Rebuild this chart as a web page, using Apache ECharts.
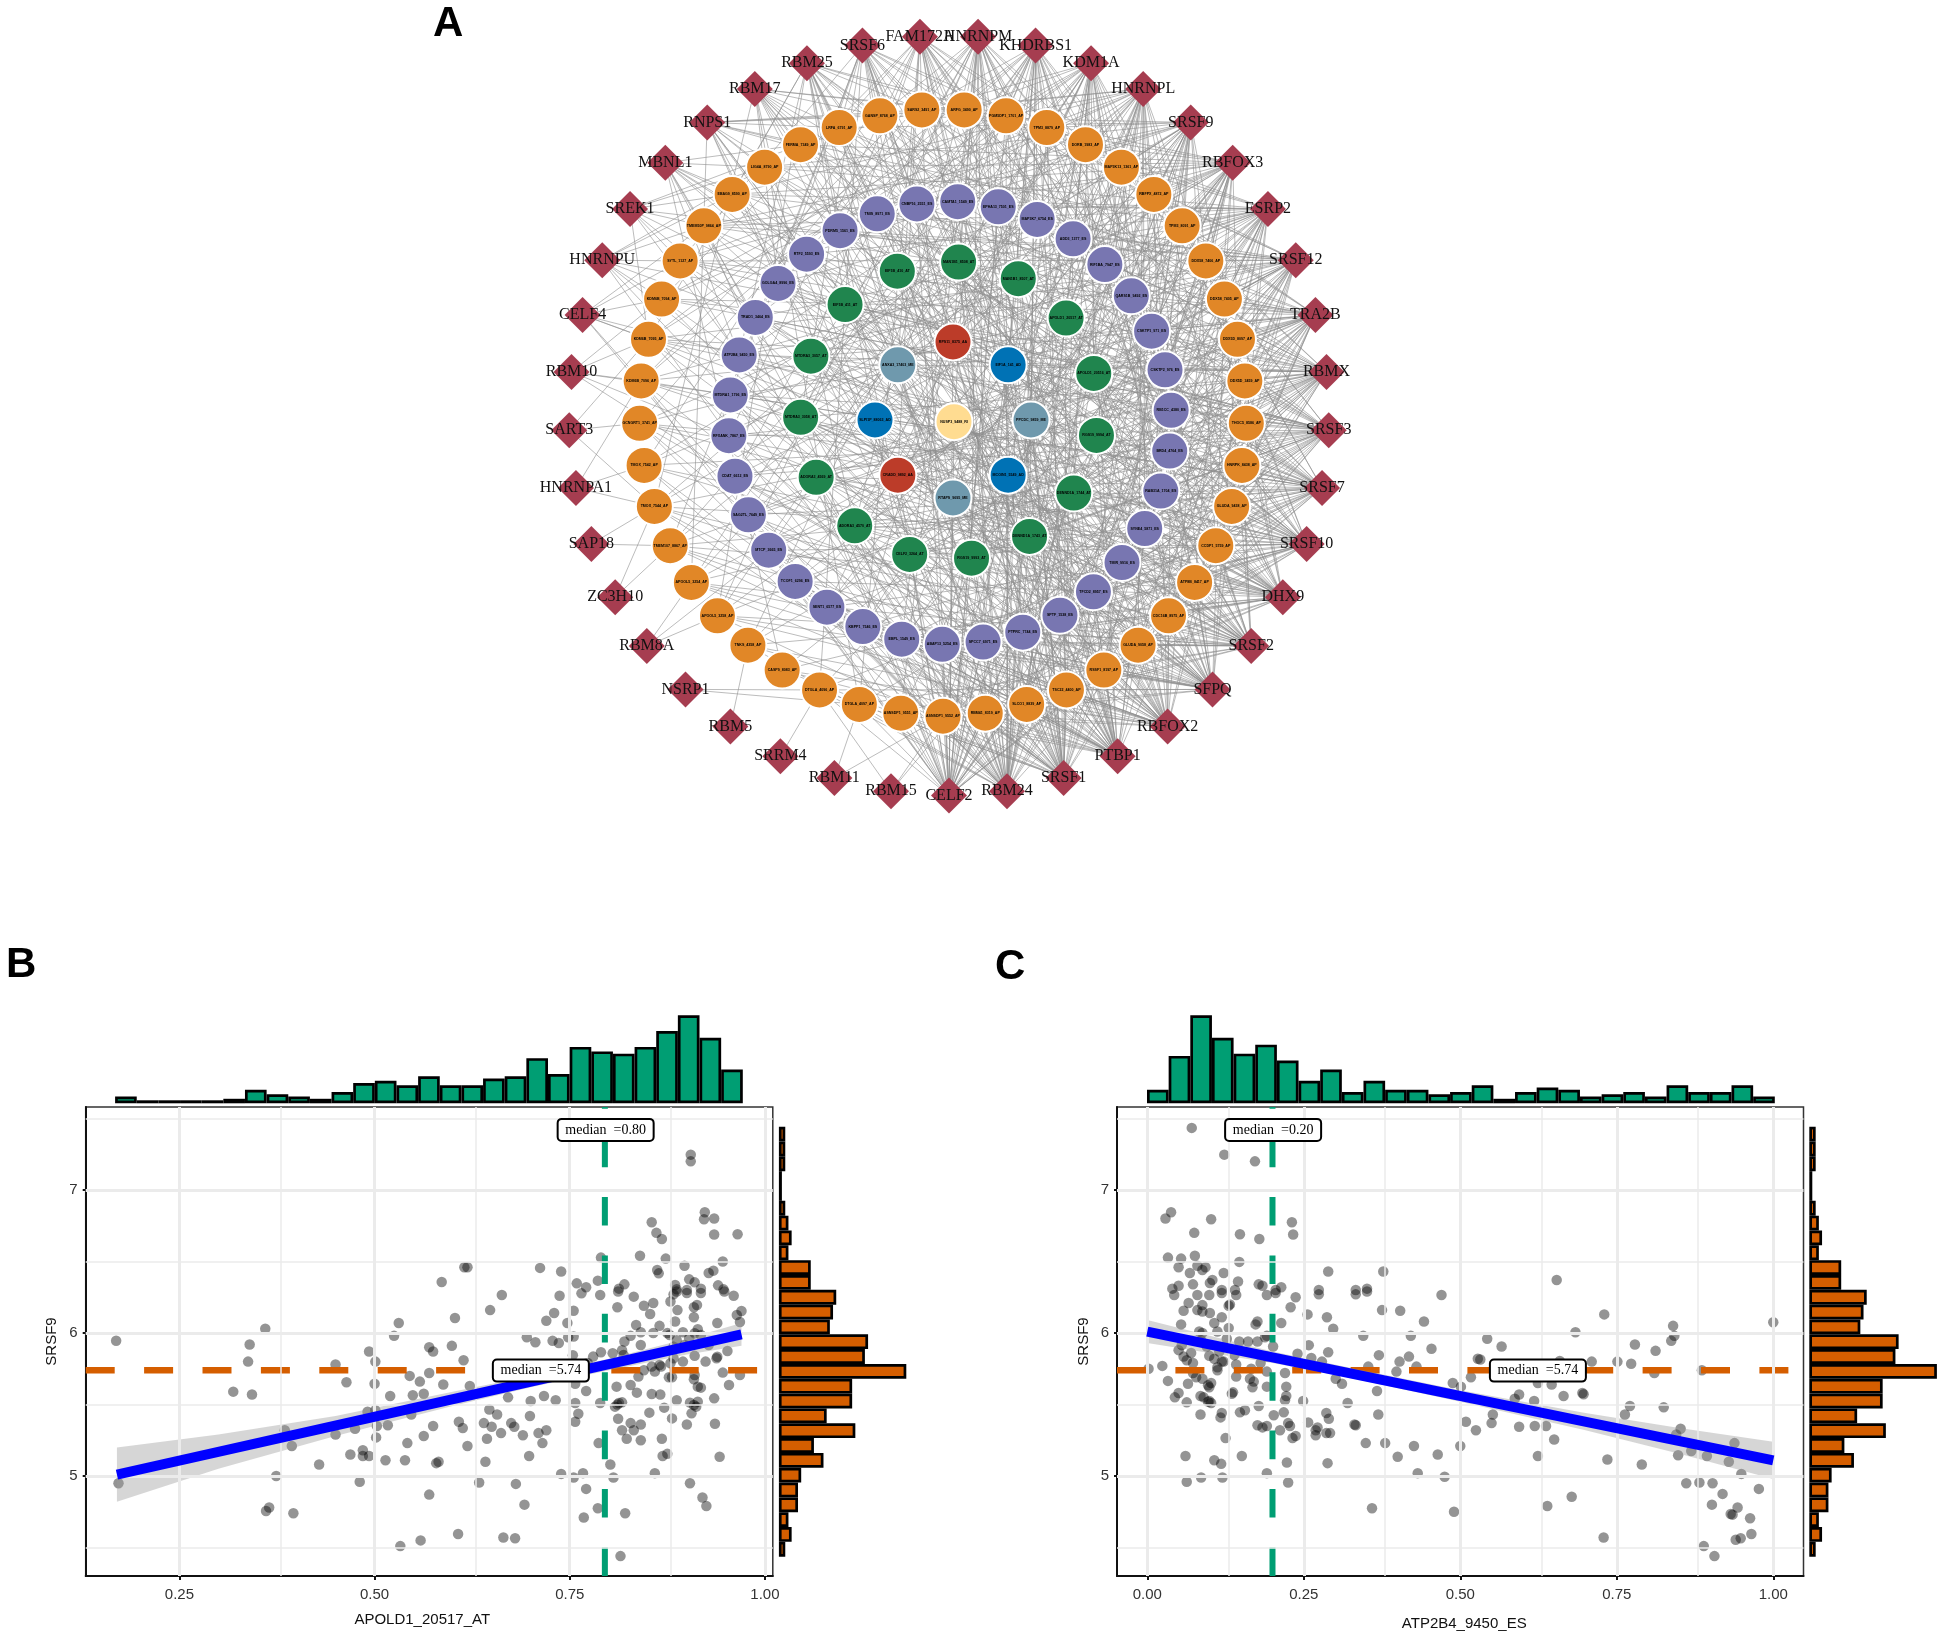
<!DOCTYPE html>
<html><head><meta charset="utf-8">
<style>html,body{margin:0;padding:0;background:#fff}#c{width:1946px;height:1639px}</style>
<script src="https://cdn.jsdelivr.net/npm/echarts@6/dist/echarts.min.js"></script>
</head><body><div id="c"></div>
<script>
// ---------- Panel A data ----------
const rbps=['CELF2','RBM15','RBM11','SRRM4','RBM5','NSRP1','RBM8A','ZC3H10','SAP18','HNRNPA1','SART3','RBM10','CELF4','HNRNPU','SREK1','MBNL1','RNPS1','RBM17','RBM25','SRSF6','FAM172A','HNRNPM','KHDRBS1','KDM1A','HNRNPL','SRSF9','RBFOX3','ESRP2','SRSF12','TRA2B','RBMX','SRSF3','SRSF7','SRSF10','DHX9','SRSF2','SFPQ','RBFOX2','PTBP1','SRSF1','RBM24'];
const orangeAse=['ASNSDP1_9552_AP','ASNSDP1_9551_AP','DTGLA_4097_AP','DTGLA_4096_AP','CASP9_8083_AP','TNKS_4358_AP','APOOL5_3258_AP','APOOL5_3254_AP','TMEM107_8867_AP','TMOX_7544_AP','TMOX_7542_AP','GCNGRT1_3741_AP','KDM6B_7096_AP','KDM6B_7095_AP','KDM6B_7094_AP','SYTL_1127_AP','TMEM50P_9864_AP','EBAG9_8590_AP','LIG4A_8790_AP','FERMA_7349_AP','LRFA_6791_AP','GANSP_8768_AP','SARS2_3491_AP','ARFG_3490_AP','PGM5DP1_1701_AP','TPM3_8879_AP','DORB_1983_AP','MAP3K13_1361_AP','RBFPX_4872_AP','TPM3_8091_AP','DDX58_7406_AP','DDX58_7405_AP','DDX5D_8097_AP','DDX5D_3459_AP','THOC5_8586_AP','HNRPK_8438_AP','GLUDA_9438_AP','CCDP1_5759_AP','ATP8B_8417_AP','CDC16B_8975_AP','GLUDA_9058_AP','RSSF1_8197_AP','TSC22_4400_AP','SLCO1_8839_AP','RBM41_8319_AP'];
const purpleAse=['ABAP13_5254_ES','EBPL_1549_ES','KBPP1_7546_ES','SENT1_6577_ES','TCOF1_6296_ES','MTCP_3665_ES','SAG2TL_7649_ES','CDAT_6612_ES','RFXANK_7867_ES','MTDRA1_1796_ES','ATP2B4_9450_ES','TRAD1_3464_ES','GOLGA4_8996_ES','RTF2_5593_ES','PDRM5_1561_ES','TMIS_8971_ES','CNBP16_2551_ES','CAMTA1_1549_ES','EPHA13_7501_ES','MAP3K7_6754_ES','ADD3_1377_ES','RIF1BA_7947_ES','QARS1B_9492_ES','CSKTP1_971_ES','CSKTP2_976_ES','RB1CC_4380_ES','BRD4_4764_ES','RAB31A_1704_ES','SYNE4_5871_ES','TMIR_9916_ES','TFCD2_8957_ES','SPTF_1538_ES','PTPRC_7744_ES','SPCC7_6971_ES'];
const greenAse=['CELF2_3264_AT','ADORA3_4570_AT','ADORA3_4569_AT','MTDRA3_3058_AT','MTDRA3_3057_AT','EIF1B_411_AT','EIF1B_410_AT','MAN1B1_8508_AT','MAN1B1_8507_AT','APOLD1_20517_AT','APOLD1_20516_AT','RGS19_9994_AT','DENND1A_1744_AT','DENND1A_1743_AT','RGS19_9993_AT'];
const innerAse=['RTAPS_9695_ME','CRADD_9892_AA','SLPI1P_88063_AD','ANXA3_17403_ME','RPS11_8375_AA','EIF1A_141_AD','PPCDC_9859_ME','MCOIN1_5549_AD'];
const innerColors=['#6F99AD','#BC3C29','#0072B5','#6F99AD','#BC3C29','#0072B5','#6F99AD','#0072B5'];
const centerAse='NUSP3_9488_RI';
// targets: 0-44 orange, 100-133 purple, 200-214 green, 300-307 inner, 308 centre
const rbpTargets={
CELF2:[0,1,2,44,43,42,41,3,40,100,101,102,133,132,131,103,130,200,201,214,213,300,301,307,308,129,104,212,202,105,128,302,39,306,127,203,211,22,24,118,116,12,16,121,208,304],
RBM15:[3,0,132],
RBM11:[0,2],
SRRM4:[3],
RBM5:[5],
NSRP1:[3,2],
RBM8A:[7,6,105],
ZC3H10:[8,9],
SAP18:[9,8],
HNRNPA1:[10,9,12],
SART3:[9,13,11],
RBM10:[12,13,14,108,109,107],
CELF4:[15,14,13,16,12,110,106,37],
HNRNPU:[16,15,17,18,111,108,14,203,109,33],
SREK1:[17,16,18,15,13,19,112,204,121,110],
MBNL1:[18,19,17,16,113,110,111,203,205,124,4,303,36],
RNPS1:[20,21,22,23,18,19,114,113,205,200,125,29,30,7,301,112,131],
RBM17:[21,20,19,23,24,115,112,114,206,303,127,33,126,201,9,40,2,209],
RBM25:[20,21,22,23,24,17,115,116,117,205,206,304,128,34,110,118,6,41,0,302,214,133,13],
SRSF6:[21,22,23,24,25,116,117,118,119,206,207,304,20,129,130,3,112,8,42,300,203,109,31,15,213],
FAM172A:[22,23,24,25,26,20,117,118,119,120,207,208,303,305,114,131,36,2,10,43,301,204,108,32,14,212,124],
HNRNPM:[23,24,25,26,27,21,118,119,120,121,207,208,209,305,304,115,132,37,1,113,201,11,44,308,203,107,33,12,214,125,6,101],
KHDRBS1:[24,25,26,27,28,22,119,120,121,122,208,209,306,305,116,133,38,0,112,204,302,12,5,300,202,106,34,13,213,126,7,102,42],
KDM1A:[25,26,27,28,29,23,120,121,122,123,209,210,306,307,117,100,39,44,111,203,301,115,13,6,304,201,105,35,14,212,127,8,103,43,19],
HNRNPL:[26,27,28,29,30,21,22,24,121,122,123,124,209,210,211,306,118,101,40,43,110,202,300,14,7,303,200,104,36,15,214,128,9,115,0,17],
SRSF9:[27,28,29,30,31,20,21,25,122,123,124,125,210,211,307,119,102,41,42,109,201,302,113,15,8,301,214,103,37,16,213,129,10,116,1,18,208],
RBFOX3:[28,29,30,31,32,19,24,26,123,124,125,126,210,211,212,307,308,120,103,42,41,108,200,303,112,18,16,9,300,213,102,38,17,212,130,11,117,2,22,207,5],
ESRP2:[29,30,31,32,33,34,18,25,27,124,125,126,127,211,212,213,307,121,104,43,40,107,214,304,111,17,116,10,305,212,101,39,16,204,131,12,118,3,23,206,6,113],
SRSF12:[30,31,32,33,34,35,17,23,28,125,126,127,128,211,212,213,306,122,105,44,39,106,213,305,110,16,115,11,301,211,100,40,15,205,132,13,119,4,24,205,7,114,202],
TRA2B:[31,32,33,34,35,36,37,16,24,29,126,127,128,129,212,213,214,306,123,106,0,38,105,212,308,109,15,114,119,12,302,210,133,41,14,206,133,5,25,204,8,115,201,20],
RBMX:[32,33,34,35,36,37,38,15,22,30,127,128,129,130,212,213,214,200,305,124,107,1,37,104,211,300,108,14,113,118,20,13,303,209,132,42,207,100,6,26,203,9,116,202,21,110],
SRSF3:[33,34,35,36,37,38,39,14,21,31,128,129,130,131,213,214,200,201,307,125,108,2,36,103,210,301,107,13,112,117,19,122,15,304,208,131,43,208,101,7,27,204,10,111,205,22,109],
SRSF7:[34,35,36,37,38,39,40,13,20,32,129,130,131,132,214,200,201,202,300,126,109,3,35,102,209,302,106,12,111,116,18,121,16,305,207,130,44,209,102,8,28,205,11,110,206,23,115],
SRSF10:[35,36,37,38,39,40,41,12,19,33,130,131,132,133,200,201,202,203,300,307,127,110,4,34,101,208,303,105,11,110,115,17,120,124,18,306,206,129,0,210,103,9,29,206,112,207,24,113],
DHX9:[36,37,38,39,40,41,42,11,18,34,131,132,133,100,200,201,202,203,204,300,301,128,111,5,33,100,207,304,104,10,109,114,16,119,123,26,19,308,205,128,1,211,104,8,30,207,113,208,25,112,12],
SRSF2:[37,38,39,40,41,42,43,10,17,35,132,133,100,101,201,202,203,204,205,301,302,129,112,6,32,133,206,305,103,9,108,113,15,118,122,25,20,307,204,127,2,212,105,7,31,208,114,209,26,111,13],
SFPQ:[38,39,40,41,42,43,44,9,16,36,133,100,101,102,202,203,204,205,206,301,302,303,130,113,7,31,132,205,306,102,8,107,112,14,117,121,24,28,21,300,203,126,3,213,106,6,32,209,115,210,27,110],
RBFOX2:[39,40,41,42,43,44,0,8,15,37,100,101,102,103,203,204,205,206,207,302,303,304,131,114,7,30,131,204,307,101,6,106,111,13,116,120,23,27,33,22,308,202,125,4,214,107,5,210,116,211,28,109,11],
PTBP1:[40,41,42,43,44,0,1,7,14,38,101,102,103,104,204,205,206,207,208,303,304,305,308,132,115,8,29,130,203,300,100,5,105,110,12,115,119,22,26,32,23,306,201,124,9,200,108,4,211,117,212,20,106,18],
SRSF1:[41,42,43,44,0,1,2,6,13,39,102,103,104,105,205,206,207,208,209,304,305,306,133,116,9,28,129,202,301,133,4,104,109,11,114,118,21,25,31,35,24,307,200,123,10,201,107,3,212,118,213,19,120,17],
RBM24:[42,43,44,0,1,2,3,5,12,40,103,104,105,106,206,207,208,209,210,305,306,307,308,100,117,10,27,128,201,302,132,3,103,108,10,113,117,20,24,30,34,25,303,214,122,11,202,109,15,213,119,214,18,121,16]
};
// ---------- Panels B / C data ----------
const topCountsB=[3,0,0,0,0,2,6,4,3,2,5,9,10,8,12,8,8,11,12,20,13,25,23,22,25,32,39,29,15];
const topCountsC=[6,21,39,29,22,26,19,10,15,5,10,6,6,4,5,8,2,5,7,6,3,4,5,3,8,5,5,8,3];
const sideCounts=[2,2,2,0,0,2,3,4,3,10,10,18,17,16,28,27,40,23,23,15,24,11,14,7,6,6,3,4,2];
const xTicksB=[0.25,0.5,0.75,1];
const xMinorB=[0.375,0.625,0.875];
const xTicksC=[0,0.25,0.5,0.75,1];
const xMinorC=[0.125,0.375,0.625,0.875];
const yTicks=[5,6,7];
const yMinor=[4.5,5.5,6.5,7.5];
const medianXB=0.795, medianXC=0.2, medianY=5.74;
const lineB=[[0.17,5.01],[0.97,5.99]];
const lineC=[[0,6.01],[1,5.11]];
const bandB=[[0.17,4.82,5.2],[0.3,5.05,5.29],[0.45,5.28,5.42],[0.6,5.49,5.59],[0.7,5.62,5.7],[0.8,5.74,5.82],[0.9,5.85,5.96],[0.97,5.91,6.07]];
const bandC=[[0,5.93,6.09],[0.1,5.86,5.98],[0.2,5.79,5.87],[0.32,5.69,5.76],[0.5,5.52,5.6],[0.7,5.32,5.44],[0.85,5.155,5.335],[1,4.98,5.24]];
const pointsB=[[.169,5.946],[.172,4.95],[.36,6.03],[.34,5.92],[.338,5.8],[.319,5.59],[.343,5.57],[.385,5.32],[.394,5.21],[.374,5],[.365,4.78],[.361,4.755],[.396,4.74],[.429,5.08],[.45,5.78],[.45,5.29],[.464,5.655],[.475,5.33],[.469,5.15],[.485,5.18],[.485,5.14],[.493,5.14],[.481,4.96],[.491,5.45],[.501,5.46],[.493,5.87],[.501,5.8],[.5,5.645],[.503,5.35],[.502,5.27],[.517,5.355],[.514,5.11],[.52,5.56],[.525,5.98],[.531,6.07],[.539,5.11],[.533,4.51],[.542,5.23],[.545,5.7],[.549,5.565],[.563,5.575],[.558,5.66],[.563,5.28],[.547,5.43],[.57,5.72],[.57,5.9],[.575,5.87],[.575,5.35],[.559,4.55],[.57,4.87],[.579,5.09],[.582,5.1],[.588,5.64],[.599,5.91],[.603,6.105],[.614,5.81],[.608,5.38],[.613,5.335],[.619,5.21],[.607,4.595],[.622,5.63],[.634,4.955],[.642,5.1],[.644,5.26],[.64,5.37],[.65,5.345],[.648,6.16],[.663,6.265],[.665,4.57],[.68,4.565],[.681,4.945],[.657,5.43],[.647,5.465],[.662,5.3],[.671,5.55],[.675,5.37],[.679,5.345],[.69,5.285],[.692,4.8],[.698,5.14],[.699,5.42],[.7,5.525],[.695,5.97],[.706,5.935],[.71,5.3],[.72,5.32],[.715,5.23],[.717,5.56],[.732,5.53],[.72,6.085],[.73,6.14],[.728,5.945],[.736,5.93],[.747,6.07],[.737,6.26],[.739,5.015],[.755,4.99],[.767,5.02],[.771,4.91],[.786,4.775],[.768,4.71],[.821,4.74],[.815,4.44],[.806,4.99],[.802,5.08],[.859,5.02],[.904,4.95],[.92,4.85],[.925,4.79],[.942,5.135],[.869,5.14],[.875,5.155],[.787,5.23],[.936,5.365],[.9,5.36],[.841,5.36],[.841,5.25],[.868,5.26],[.823,5.26],[.817,5.32],[.832,5.32],[.828,5.37],[.812,5.4],[.761,5.435],[.757,5.38],[.754,5.845],[.755,6.155],[.755,5.975],[.748,5.97],[.757,5.645],[.757,5.51],[.771,5.595],[.789,5.51],[.79,5.865],[.78,5.835],[.773,5.79],[.813,5.51],[.817,5.515],[.811,5.5],[.811,6.18],[.789,6.266],[.765,6.277],[.812,6.29],[.832,6.254],[.845,6.19],[.857,6.21],[.853,6.133],
[.905,7.247],[.905,7.2],[.923,6.844],[.922,6.795],[.935,6.8],[.855,6.774],[.861,6.7],[.868,6.657],[.935,6.688],[.965,6.69],[.79,6.527],[.84,6.54],[.873,6.52],[.897,6.47],[.946,6.5],[.615,6.46],[.619,6.46],[.712,6.455],[.739,6.43],[.862,6.44],[.864,6.417],[.928,6.42],[.934,6.436],[.786,6.366],[.82,6.34],[.759,6.347],[.771,6.32],[.586,6.357],[.903,6.375],[.91,6.354],[.885,6.335],[.94,6.333],[.813,6.31],[.9,6.3],[.918,6.31],[.887,6.305],[.947,6.305],
[.883,6.27],[.887,6.29],[.9,6.28],[.918,6.28],[.948,6.29],[.96,6.26],[.879,6.22],[.913,6.196],[.909,6.18],[.888,6.16],[.909,6.11],[.885,6.08],[.939,6.07],[.964,6.126],[.97,6.154],[.968,6.077],[.865,6.05],[.835,6.056],[.841,6.005],[.828,5.98],[.82,5.94],[.841,5.916],[.857,6],[.875,6],[.878,5.986],[.895,6.005],[.914,6.026],[.91,5.998],[.918,5.986],[.903,5.963],[.887,5.95],[.928,5.916],[.897,5.916],[.883,5.904],[.952,5.874],[.938,5.823],[.939,5.834],[.91,5.84],[.924,5.8],[.895,5.8],[.883,5.823],[.879,5.788],[.865,5.776],[.867,5.765],[.855,5.765],[.845,5.74],[.838,5.695],[.859,5.73],[.877,5.69],[.881,5.69],[.909,5.676],[.918,5.618],[.914,5.625],[.946,5.723],[.968,5.706],[.954,5.636],[.91,5.706],[.828,5.636],[.836,5.583],[.855,5.573],[.866,5.57],[.887,5.53],[.904,5.513],[.909,5.497],[.912,5.485],[.914,5.52],[.935,5.543],[.871,5.478],[.852,5.443],[.906,5.438],[.881,5.403],[.817,5.88],[.805,5.858],[.819,5.846],[.81,5.625],[.808,5.485]];
const pointsC=[[.071,7.434],[.123,7.247],[.172,7.2],[.038,6.844],[.029,6.8],[.102,6.795],[.075,6.7],[.231,6.774],[.233,6.688],[.148,6.69],[.179,6.657],[.033,6.527],[.054,6.52],[.076,6.54],[.147,6.497],[.05,6.46],[.08,6.47],[.088,6.44],[.093,6.46],[.068,6.42],[.122,6.42],[.289,6.43],[.377,6.43],[.654,6.37],[.104,6.37],[.1,6.35],[.05,6.33],[.073,6.34],[.145,6.36],[.178,6.34],[.184,6.33],[.214,6.32],[.04,6.31],[.119,6.3],[.14,6.3],[.205,6.3],[.274,6.3],[.333,6.3],[.351,6.31],
[.043,6.266],[.08,6.266],[.099,6.266],[.119,6.28],[.142,6.266],[.191,6.266],[.205,6.28],[.237,6.25],[.274,6.27],[.333,6.27],[.351,6.29],[.47,6.266],[.066,6.21],[.088,6.195],[.132,6.2],[.13,6.19],[.058,6.155],[.08,6.16],[.088,6.15],[.1,6.14],[.119,6.11],[.107,6.07],[.054,6.06],[.176,6.08],[.173,6.06],[.229,6.18],[.256,6.13],[.287,6.11],[.297,6.03],[.214,6.07],[.375,6.16],[.404,6.155],[.442,6.08],[.73,6.13],[.84,6.05],[1,6.075],[.684,6.005],[.842,5.98],[.837,5.945],[.779,5.92],[.812,5.875],[.543,5.96],[.566,5.905],[.345,5.98],[.421,5.98],[.454,5.89],[.528,5.82],[.532,5.815],[.37,5.845],[.418,5.835],[.403,5.8],[.43,5.765],[.289,5.865],[.258,5.915],[.24,5.855],[.262,5.825],[.279,5.8],[.71,5.8],[.751,5.8],[.773,5.785],[.659,5.805],[.353,5.765],[.398,5.73],[.81,5.72],[.886,5.74],[.002,5.75],[.024,5.77],[.517,5.69],[.488,5.65],[.501,5.625],[.624,5.65],[.646,5.64],[.594,5.57],[.587,5.54],[.618,5.525],[.665,5.56],[.695,5.58],[.697,5.572],[.367,5.595],[.32,5.51],[.301,5.68],[.311,5.645],[.249,5.525],[.222,5.625],[.222,5.56],[.22,5.53],[.771,5.49],[.825,5.48],[.763,5.43],[.552,5.43],[.369,5.43],[.286,5.44],[.29,5.4],[.509,5.38],[.55,5.37],[.525,5.32],[.594,5.345],[.619,5.35],[.637,5.35],[.65,5.255],[.852,5.33],[.845,5.29],[.938,5.23],[.848,5.145],[.869,5.175],[.894,5.14],[.929,5.1],[.949,5.015],[.735,5.115],[.79,5.08],[.624,5.14],[.5,5.21],[.464,5.15],[.426,5.21],[.4,5.135],[.38,5.23],[.349,5.23],[.432,5.02],[.475,4.995],[.288,5.09],[.223,5.095],[.061,5.14],[.107,5.11],[.118,5.085],[.151,5.14],[.191,5.02],[.225,4.955],[.063,4.96],[.086,4.99],[.12,4.99],[.125,5.265],[.861,4.95],[.882,4.955],[.903,4.95],[.919,4.875],[.977,4.91],[.678,4.855],[.639,4.79],[.359,4.775],[.49,4.75],[.902,4.8],[.943,4.78],[.932,4.735],[.935,4.73],[.963,4.705],[.965,4.595],[.948,4.565],[.94,4.555],[.729,4.57],[.889,4.51],[.906,4.44],
[.176,5.355],[.184,5.34],[.191,5.35],[.202,5.425],[.218,5.445],[.212,5.32],[.228,5.35],[.225,5.37],[.257,5.375],[.269,5.32],[.272,5.34],[.292,5.3],[.286,5.3],[.237,5.28],[.232,5.265],[.269,5.285],[.331,5.36],[.333,5.355],[.085,5.43],[.117,5.41],[.119,5.44],[.148,5.445],[.156,5.46],[.178,5.49],[.063,5.515],[.044,5.55],[.05,5.58],[.085,5.56],[.09,5.55],[.097,5.52],[.102,5.51],[.099,5.525],[.135,5.575],[.137,5.585],[.065,5.645],[.033,5.665],[.097,5.635],[.099,5.62],[.102,5.65],[.078,5.69],[.088,5.68],[.073,5.72],[.142,5.695],[.164,5.68],[.168,5.62],[.191,5.625],[.17,5.66],[.112,5.74],[.122,5.8],[.142,5.78],[.112,5.76],[.166,5.75],[.191,5.73],[.22,5.72],[.058,5.835],[.05,5.88],[.07,5.86],[.073,5.79],[.063,5.81],[.099,5.84],[.107,5.82],[.083,6.01],[.088,6],[.112,6.01],[.13,6.035],[.127,5.96],[.147,5.94],[.161,5.94],[.176,5.94],[.191,5.98],[.188,5.97],[.201,5.905],[.055,5.915],[.086,5.95],[.095,5.905],[.115,5.87],[.139,5.845],[.119,5.8],[.181,5.79],[.191,5.835]];

// ---------- Panel A build ----------
const nodes=[];
function ring(names,cx,cy,r,rot,colorOf,symbol){
  names.forEach((n,i)=>{
    const a=(rot+i*360/names.length)*Math.PI/180;
    nodes.push({id:String(nodes.length),name:n,value:[cx-r*Math.sin(a),cy+r*Math.cos(a)],symbol:symbol,symbolSize:symbol==='diamond'?36:37,
      itemStyle:{color:colorOf(i),borderColor:'#fff',borderWidth:symbol==='diamond'?0:2},
      label:symbol==='diamond'?{show:true,position:'inside',color:'#111',fontFamily:'Liberation Serif',fontSize:16}
        :{show:true,position:'inside',color:'#000',fontFamily:'Liberation Sans',fontWeight:'bold',fontSize:3.6}});
  });
}
const idx={};
const base=(k,start)=>{idx[k]=start};
base('rbp',0);ring(rbps,949,415.6,380,0,()=>'#A63D50','diamond');
base('o',nodes.length);ring(orangeAse,943,412.7,303.5,0,()=>'#E18727','circle');
base('p',nodes.length);ring(purpleAse,950,423,221.5,2,()=>'#7876B1','circle');
base('g',nodes.length);ring(greenAse,949.5,410.8,149,15.5,()=>'#20854E','circle');
base('i',nodes.length);ring(innerAse,953,420,78,0,i=>innerColors[i],'circle');
base('c',nodes.length);ring([centerAse],954,421.7,0,0,()=>'#FFDC91','circle');
function targetIndex(t){
  if(t<100)return idx.o+t; if(t<200)return idx.p+t-100; if(t<300)return idx.g+t-200;
  if(t<308)return idx.i+t-300; return idx.c;
}
const links=[];
rbps.forEach((n,i)=>{[...new Set(rbpTargets[n])].forEach(t=>links.push({source:i,target:targetIndex(t)}))});

// ---------- Panels B/C build ----------
const sans='Liberation Sans';
function panel(o){
  const gi=o.gridStart, g=[], xa=[], ya=[], s=[];
  const main={left:o.left,top:1107,width:o.right-o.left,height:469,show:true,borderColor:'#333',borderWidth:1.5,backgroundColor:'#fff',containLabel:false};
  g.push(main);
  xa.push({type:'value',gridIndex:gi,min:o.xMin,max:o.xMax,name:o.xName,nameLocation:'middle',nameGap:o.nameGap,
    nameTextStyle:{fontFamily:sans,fontSize:15,color:'#111',padding:o.namePad},
    axisLine:{onZero:false,lineStyle:{color:'#111',width:2}},axisTick:{show:true,customValues:o.xTicks,length:4,lineStyle:{color:'#111',width:2}},
    axisLabel:{customValues:o.xTicks,formatter:v=>v.toFixed(2),fontFamily:sans,fontSize:15,color:'#333',margin:11},splitLine:{show:false}});
  ya.push({type:'value',gridIndex:gi,min:4.301,max:7.58,name:'SRSF9',nameLocation:'middle',nameGap:26,
    nameTextStyle:{fontFamily:sans,fontSize:15,color:'#111'},
    axisLine:{onZero:false,lineStyle:{color:'#111',width:2}},axisTick:{show:true,customValues:yTicks,length:3,lineStyle:{color:'#111',width:2}},
    axisLabel:{customValues:yTicks,fontFamily:sans,fontSize:15,color:'#333',margin:8},splitLine:{show:false}});
  const onMain={xAxisIndex:gi,yAxisIndex:gi};
  const gl=(arr,key,w)=>arr.map(v=>({[key]:v,lineStyle:{color:'#EBEBEB',width:w,type:'solid'}}));
  s.push({type:'line',...onMain,data:[],silent:true,z:1,markLine:{silent:true,symbol:'none',label:{show:false},animation:false,
    data:[...gl(o.xMinor,'xAxis',1.5),...gl(yMinor,'yAxis',1.5),...gl(o.xTicks,'xAxis',3),...gl(yTicks,'yAxis',3)]}});
  s.push({type:'scatter',...onMain,data:o.points,symbolSize:10.5,itemStyle:{color:'#000',opacity:.42},silent:true,z:2});
  s.push({type:'line',...onMain,data:[[o.xMin,medianY],[o.xMax,medianY]],showSymbol:false,silent:true,z:3,
    lineStyle:{color:'#D55E00',width:6.5,type:[29,29.4]}});
  s.push({type:'line',...onMain,data:[[o.medianX,4.301],[o.medianX,7.58]],showSymbol:false,silent:true,z:3,
    lineStyle:{color:'#009E73',width:6,type:[28.6,29.8]}});
  s.push({type:'custom',...onMain,data:o.band,silent:true,z:4,
    renderItem:(p,api)=>{
      if(p.dataIndex>0)return null;
      const up=o.band.map(b=>api.coord([b[0],b[2]])), lo=o.band.map(b=>api.coord([b[0],b[1]])).reverse();
      return {type:'polygon',shape:{points:up.concat(lo)},style:{fill:'rgba(153,153,153,0.4)'}};
    }});
  s.push({type:'line',...onMain,data:o.line,showSymbol:false,silent:true,z:5,lineStyle:{color:'#0000FF',width:10,cap:'butt'}});
  const lab=(pos,txt)=>({type:'scatter',...onMain,data:[pos],symbolSize:2,itemStyle:{color:'rgba(0,0,0,0)',opacity:1},silent:true,z:6,
    labelLayout:{hideOverlap:false},
    label:{show:true,position:'inside',formatter:txt,fontFamily:'Liberation Serif',fontSize:14,color:'#000',opacity:1,
      backgroundColor:'#fff',borderColor:'#000',borderWidth:2,borderRadius:3,padding:[3,5,3,5],width:84,align:'center',height:14,lineHeight:14}});
  s.push(lab([o.medianX+0.001,7.42],'median  ='+o.medianXLabel));
  s.push(lab(o.yLabelAt,'median  ='+medianY.toFixed(2)));
  // top histogram
  const cats=o.top.map((_,i)=>String(i));
  g.push({left:o.topLeft,width:o.topWidth,top:1015.3,height:88});
  xa.push({type:'category',gridIndex:gi+1,data:cats,show:false});
  ya.push({type:'value',gridIndex:gi+1,min:0,max:39,show:false});
  s.push({type:'bar',xAxisIndex:gi+1,yAxisIndex:gi+1,data:o.top,barWidth:'100%',barMinHeight:3,silent:true,itemStyle:{color:'#009E73',borderColor:'#000',borderWidth:2.7}});
  // side histogram
  g.push({left:o.sideLeft,width:o.sideWidth,top:1126.7,height:430});
  xa.push({type:'value',gridIndex:gi+2,min:0,max:40,show:false});
  ya.push({type:'category',gridIndex:gi+2,data:cats.slice(0,sideCounts.length),inverse:true,show:false});
  s.push({type:'bar',xAxisIndex:gi+2,yAxisIndex:gi+2,data:sideCounts,barWidth:'100%',barMinHeight:3,silent:true,itemStyle:{color:'#D55E00',borderColor:'#000',borderWidth:2.7}});
  return {g,xa,ya,s};
}
const pB=panel({gridStart:1,left:85.7,right:772.8,xMin:.13,xMax:1.0101,xTicks:xTicksB,xMinor:xMinorB,xName:'APOLD1_20517_AT',nameGap:36,namePad:[0,14,0,0],
  points:pointsB,medianX:medianXB,medianXLabel:'0.80',yLabelAt:[.713,5.737],band:bandB,line:lineB,top:topCountsB,topLeft:115.1,topWidth:627.7,sideLeft:778.9,sideWidth:127.4});
const pC=panel({gridStart:4,left:1117,right:1803.5,xMin:-.0484,xMax:1.0483,xTicks:xTicksC,xMinor:xMinorC,xName:'ATP2B4_9450_ES',nameGap:40,namePad:[0,0,0,8],
  points:pointsC,medianX:medianXC,medianXLabel:'0.20',yLabelAt:[.624,5.737],band:bandC,line:lineC,top:topCountsC,topLeft:1147,topWidth:627.8,sideLeft:1809.3,sideWidth:127.6});

const letter=(t,l,tp)=>({text:t,left:l,top:tp,padding:0,textStyle:{fontFamily:sans,fontWeight:'bold',fontSize:42,color:'#000'}});
const option={
  animation:false,backgroundColor:'#fff',
  title:[letter('A',433,3),letter('B',6,944),letter('C',995,946)],
  tooltip:{show:false},
  grid:[{left:0,top:0,width:1946,height:860},...pB.g,...pC.g],
  xAxis:[{type:'value',gridIndex:0,min:0,max:1946,show:false},...pB.xa,...pC.xa],
  yAxis:[{type:'value',gridIndex:0,min:0,max:860,inverse:true,show:false},...pB.ya,...pC.ya],
  series:[{type:'graph',coordinateSystem:'cartesian2d',xAxisIndex:0,yAxisIndex:0,layout:'none',roam:false,silent:true,
    data:nodes,links:links,lineStyle:{color:'#8f8f8f',width:.8,opacity:.75,curveness:0},emphasis:{disabled:true}},...pB.s,...pC.s]
};
const chart=echarts.init(document.getElementById('c'),null,{renderer:'canvas',width:1946,height:1639});
chart.setOption(option);
</script></body></html>
